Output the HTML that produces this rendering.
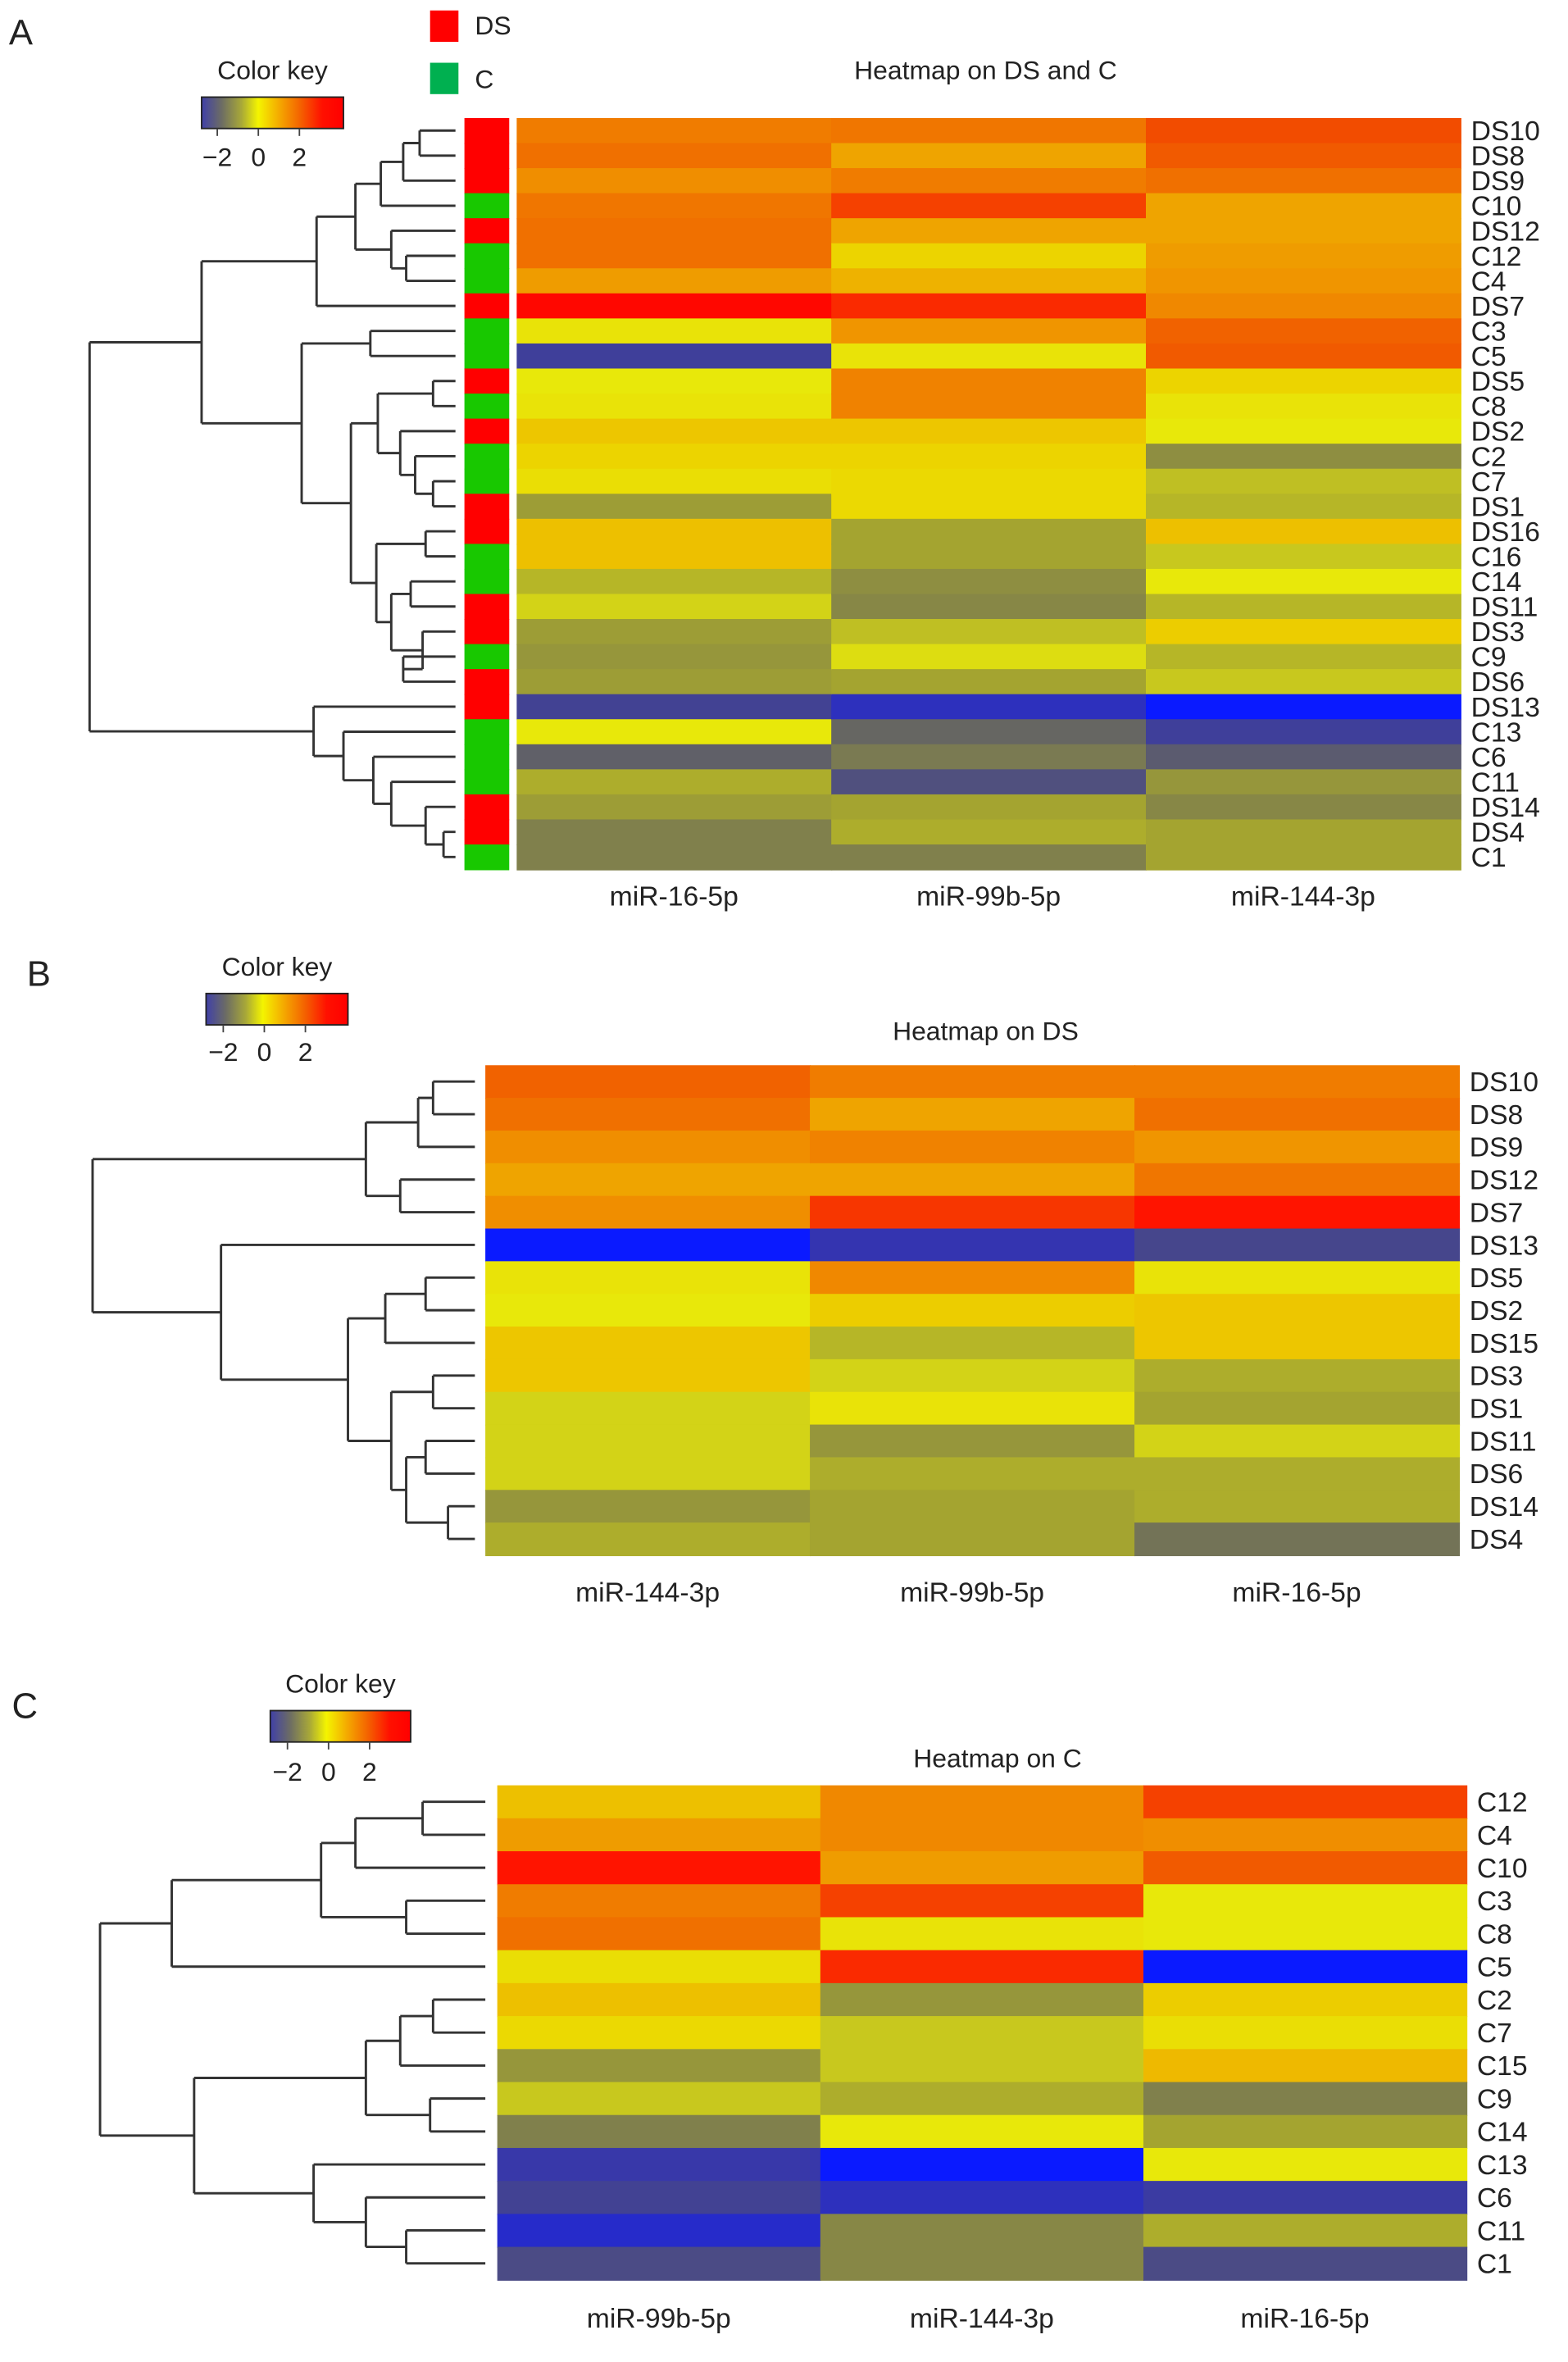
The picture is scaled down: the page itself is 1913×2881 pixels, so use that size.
<!DOCTYPE html>
<html><head><meta charset="utf-8"><style>
html,body{margin:0;padding:0;background:#fff}
svg{display:block}
text{font-family:"Liberation Sans",sans-serif;fill:#222}
</style></head><body>
<svg id="fig" width="1913" height="2881" viewBox="0 0 1050 1581" preserveAspectRatio="none" xmlns="http://www.w3.org/2000/svg">
<defs>
<linearGradient id="keygrad" x1="0" x2="1" y1="0" y2="0">
<stop offset="0" stop-color="#4040a8"/><stop offset="0.14" stop-color="#6c6c64"/>
<stop offset="0.28" stop-color="#a8a838"/><stop offset="0.4" stop-color="#f4f400"/>
<stop offset="0.55" stop-color="#f4a800"/><stop offset="0.7" stop-color="#f46000"/>
<stop offset="0.85" stop-color="#ff1000"/><stop offset="1" stop-color="#ff0000"/>
</linearGradient>
</defs>
<g id="layer"></g>
</svg>
<script>
// ---------- data ----------
const rowsA = ["DS10","DS8","DS9","C10","DS12","C12","C4","DS7","C3","C5","DS5","C8","DS2","C2","C7","DS1","DS16","C16","C14","DS11","DS3","C9","DS6","DS13","C13","C6","C11","DS14","DS4","C1"];
const colsA = ["miR-16-5p","miR-99b-5p","miR-144-3p"];
const valsA_miR16 = [1.8,2.0,1.5,1.9,2.0,2.0,1.3,3.2,0.2,-2.3,0.1,0.2,0.7,0.5,0.3,-0.7,0.8,0.8,-0.4,-0.1,-0.7,-0.8,-0.7,-2.2,0.1,-1.6,-0.5,-0.7,-1.1,-1.1];
const valsA_miR99b = [1.9,1.2,1.8,2.6,1.2,0.5,1.0,2.8,1.4,0.2,1.7,1.7,0.7,0.5,0.4,0.4,-0.6,-0.6,-0.9,-1.0,-0.3,0.0,-0.6,-2.7,-1.5,-1.2,-1.9,-0.6,-0.5,-1.1];
const valsA_miR144 = [2.5,2.3,2.0,1.2,1.2,1.3,1.4,1.6,2.2,2.3,0.5,0.2,0.1,-0.9,-0.3,-0.4,0.8,-0.2,0.1,-0.4,0.6,-0.4,-0.2,-3.2,-2.3,-1.7,-0.8,-1.0,-0.6,-0.6];
const groupA = ["DS","DS","DS","C","DS","C","C","DS","C","C","DS","C","DS","C","C","DS","DS","C","C","DS","DS","C","DS","DS","C","C","C","DS","DS","C"];

const rowsB = ["DS10","DS8","DS9","DS12","DS7","DS13","DS5","DS2","DS15","DS3","DS1","DS11","DS6","DS14","DS4"];
const colsB = ["miR-144-3p","miR-99b-5p","miR-16-5p"];
const valsB_miR144 = [2.2,2.0,1.5,1.2,1.5,-3.2,0.2,0.1,0.7,0.7,-0.1,-0.1,-0.1,-0.8,-0.5];
const valsB_miR99b = [1.8,1.2,1.7,1.2,2.7,-2.6,1.6,0.6,-0.4,-0.1,0.2,-0.8,-0.5,-0.6,-0.6];
const valsB_miR16 = [1.8,2.0,1.4,1.9,3.0,-2.1,0.2,0.7,0.7,-0.5,-0.6,-0.1,-0.5,-0.5,-1.3];

const rowsC = ["C12","C4","C10","C3","C8","C5","C2","C7","C15","C9","C14","C13","C6","C11","C1"];
const colsC = ["miR-99b-5p","miR-144-3p","miR-16-5p"];
const valsC_miR99b = [0.8,1.3,3.0,1.8,2.0,0.3,0.8,0.4,-0.8,-0.2,-1.1,-2.5,-2.2,-2.8,-2.0];
const valsC_miR144 = [1.6,1.6,1.3,2.6,0.2,2.8,-0.8,-0.2,-0.2,-0.5,0.1,-3.2,-2.7,-1.0,-1.0];
const valsC_miR16 = [2.6,1.5,2.3,0.1,0.1,-3.2,0.6,0.3,0.9,-1.1,-0.6,0.1,-2.4,-0.5,-2.0];

const keyTicks = [-2,0,2];

// ---------- helpers ----------
const NS="http://www.w3.org/2000/svg";
const layer=document.getElementById('layer');
function mk(tag,attrs,parent){const e=document.createElementNS(NS,tag);for(const k in attrs)e.setAttribute(k,attrs[k]);(parent||layer).appendChild(e);return e;}
const stops=[[-3.2,[10,26,255]],[-2.6,[52,52,176]],[-2.1,[70,70,140]],[-1.6,[96,96,104]],[-1.1,[128,128,76]],[-0.6,[164,164,48]],[-0.2,[200,200,30]],[0.1,[232,232,10]],[0.5,[236,212,0]],[1.0,[238,178,0]],[1.5,[240,142,0]],[2.0,[240,112,0]],[2.5,[242,76,0]],[3.0,[255,20,0]],[3.3,[255,0,0]]];
function cmap(v){
  if(v<=stops[0][0])return 'rgb('+stops[0][1]+')';
  for(let i=1;i<stops.length;i++){if(v<=stops[i][0]){const a=stops[i-1],b=stops[i];const t=(v-a[0])/(b[0]-a[0]);
    const c=a[1].map((x,j)=>Math.round(x+(b[1][j]-x)*t));return 'rgb('+c+')';}}
  return 'rgb(255,0,0)';
}
function txt(x,y,s,size,anchor,name,parent){const t=mk('text',{x:x,y:y,'font-size':size,'text-anchor':anchor||'start'},parent);t.textContent=s;
  
  
  return t;}

function heatmap(p){
  const g=mk('g',{});
  
  
  const n=p.rows.length, rh=(p.y1-p.y0)/n, cw=(p.x1-p.x0)/p.cols.length;
  const xScale=j=>p.x0+j*cw, yScale=i=>p.y0+i*rh;
  p.series.forEach((vals,j)=>{vals.forEach((v,i)=>{
    const r=mk('rect',{x:xScale(j),y:yScale(i),width:cw+0.6,height:rh+0.6,fill:cmap(v)},g);
    
    
  });});
  p.rows.forEach((r,i)=>{txt(p.x1+7,yScale(i)+rh/2+6.5,r,18.5,'start','row-label-'+r,g);});
  p.cols.forEach((c,j)=>{txt(xScale(j)+cw/2,p.labY,c,18.5,'middle','col-label-'+c,g);});
  return {rh:rh,yScale:yScale};
}
function dendro(tree,leafX,yOf,name){
  const g=mk('g',{stroke:'#333','stroke-width':1.6,fill:'none'});
  
  
  function draw(node){
    if(typeof node==='number')return {x:leafX,y:yOf(node)};
    const a=draw(node[1]),b=draw(node[2]);const x=node[0];
    mk('path',{d:`M${x},${a.y}H${a.x}M${x},${b.y}H${b.x}M${x},${a.y}V${b.y}`},g);
    return {x:x,y:(a.y+b.y)/2};
  }
  draw(tree);
}
function colorKey(x0,x1,y0,y1,zeroX,unit,labY,name){
  const g=mk('g',{});
  
  
  txt((x0+x1)/2,y0-12,'Color key',17.5,'middle','color-key-title',g);
  mk('rect',{x:x0,y:y0,width:x1-x0,height:y1-y0,fill:'url(#keygrad)',stroke:'#222','stroke-width':1},g);
  keyTicks.forEach(t=>{const x=zeroX+t*unit;mk('line',{x1:x,x2:x,y1:y1,y2:y1+5,stroke:'#444','stroke-width':1},g);
    txt(x,labY,(t<0?'\u22122':String(t)),17.5,'middle','color-key-tick',g);});
}

// ---------- Panel A ----------
txt(6,30,'A',24,'start','panel-label-a');
colorKey(135,230,65,86,173,13.75,111,'color-key-a');
txt(660,53,'Heatmap on DS and C',17.5,'middle','title-a');
const lgDS=mk('rect',{x:288,y:7,width:19,height:21,fill:'#ff0000'});

txt(318,23,'DS',17.5,'start','legend-ds-label');
const lgC=mk('rect',{x:288,y:42,width:19,height:21,fill:'#00b050'});

txt(318,59,'C',17.5,'start','legend-c-label');
const A=heatmap({name:'heatmap-a',rows:rowsA,cols:colsA,series:[valsA_miR16,valsA_miR99b,valsA_miR144],x0:346,x1:978,y0:79,y1:582,labY:606});
groupA.forEach((gname,i)=>{const r=mk('rect',{x:311,y:A.yScale(i),width:30,height:A.rh+0.5,fill:gname==='DS'?'#ff0000':'#18c800'});
  
  });
const yA=i=>A.yScale(i)+A.rh/2;
const t1=[281,0,1],t2=[270,t1,2],t3=[255,t2,3],t4=[272,5,6],t5=[262,4,t4],t6=[238,t3,t5],t7=[212,t6,7],t8=[248,8,9];
const m1=[290,10,11],m2=[290,14,15],m3=[278,13,m2],m4=[268,12,m3],m5=[253,m1,m4],m6=[285,16,17],m7=[275,18,19],m8=[270,21,22],m9=[283,20,m8],m10=[262,m7,m9],m11=[252,m6,m10],mid=[235,m5,m11];
const upperB=[202,t8,mid],upper=[135,t7,upperB];
const b1=[297,28,29],b2=[285,27,b1],b3=[262,26,b2],b4=[250,25,b3],b5=[230,24,b4],b6=[210,23,b5];
dendro([60,upper,b6],305,yA,'dendrogram-a');

// ---------- Panel B ----------
txt(18,660,'B',24,'start','panel-label-b');
colorKey(138,233,665,686,177,13.75,710,'color-key-b');
txt(660,696,'Heatmap on DS',17.5,'middle','title-b');
const B=heatmap({name:'heatmap-b',rows:rowsB,cols:colsB,series:[valsB_miR144,valsB_miR99b,valsB_miR16],x0:325,x1:977,y0:713,y1:1041,labY:1072});
const yB=i=>B.yScale(i)+B.rh/2;
const a1=[290,0,1],a2=[280,a1,2],a3=[268,3,4],a4=[245,a2,a3];
const l1=[285,6,7],l2=[258,l1,8],l3=[290,9,10],l4=[285,11,12],l5=[300,13,14],l6=[272,l4,l5],l7=[262,l3,l6],lower=[233,l2,l7];
dendro([62,a4,[148,5,lower]],318,yB,'dendrogram-b');

// ---------- Panel C ----------
txt(8,1150,'C',24,'start','panel-label-c');
colorKey(181,275,1145,1166,220,13.75,1192,'color-key-c');
txt(668,1183,'Heatmap on C',17.5,'middle','title-c');
const C=heatmap({name:'heatmap-c',rows:rowsC,cols:colsC,series:[valsC_miR99b,valsC_miR144,valsC_miR16],x0:333,x1:982,y0:1195,y1:1526,labY:1558});
const yC=i=>C.yScale(i)+C.rh/2;
const c1=[283,0,1],c2=[238,c1,2],c3=[272,3,4],c4=[215,c2,c3],c5=[115,c4,5];
const d1=[290,6,7],d2=[268,d1,8],d3=[288,9,10],d4=[245,d2,d3],d5=[272,13,14],d6=[245,12,d5],d7=[210,11,d6],d8=[130,d4,d7];
dendro([67,c5,d8],325,yC,'dendrogram-c');
</script>
</body></html>
